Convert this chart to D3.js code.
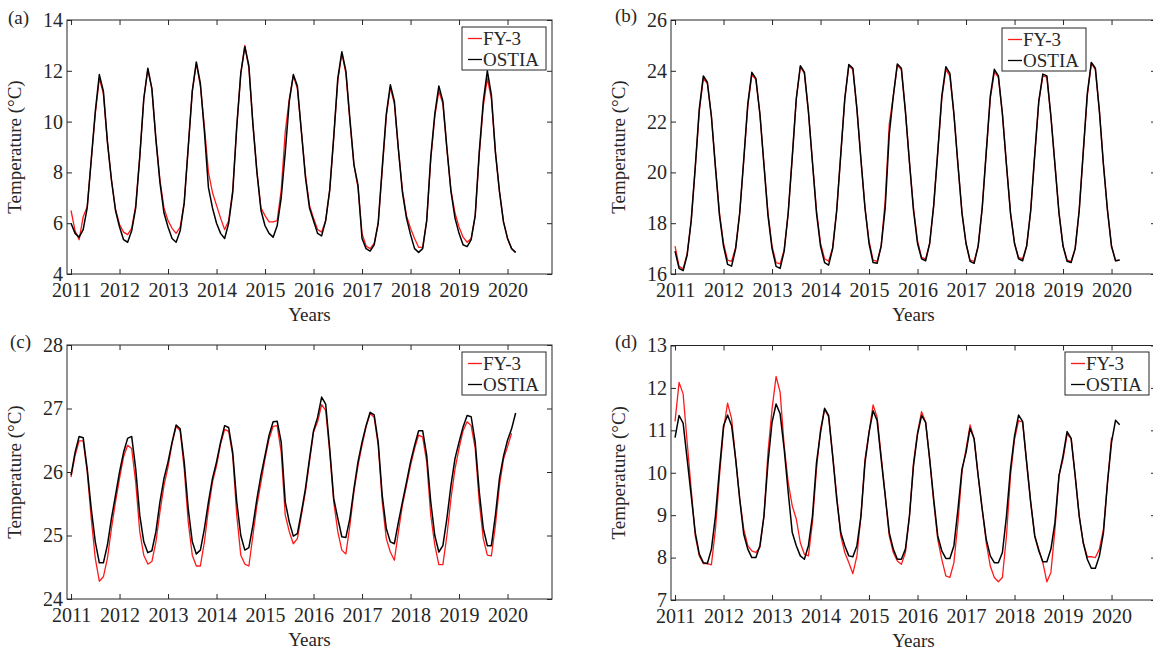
<!DOCTYPE html>
<html>
<head>
<meta charset="utf-8">
<script src="https://cdn.jsdelivr.net/npm/d3@7"></script>
<style>
  body { margin: 0; background: #fff; }
  svg text { font-family: "Liberation Serif", "Times New Roman", serif; fill: #262626; }
</style>
</head>
<body>
<svg id="chart" width="1153" height="652"></svg>
<script>
// monthly means, Jan 2011 onwards
var years = [2011, 2012, 2013, 2014, 2015, 2016, 2017, 2018, 2019, 2020];
var seriesNames = ["FY-3", "OSTIA"];

var fyA = [
  6.50, 5.70, 5.35, 6.25, 6.65, 8.50, 10.30, 11.70, 11.10, 9.20, 7.70, 6.55,
  5.95, 5.65, 5.55, 5.80, 6.70, 8.60, 10.90, 12.05, 11.30, 9.30, 7.70, 6.60,
  6.10, 5.80, 5.60, 5.85, 6.80, 9.00, 11.20, 12.30, 11.40, 9.80, 8.00, 7.20,
  6.70, 6.20, 5.75, 6.10, 7.30, 9.80, 11.90, 13.00, 12.10, 9.90, 8.00, 6.60,
  6.30, 6.05, 6.05, 6.10, 7.30, 9.60, 10.90, 11.80, 11.30, 9.60, 7.90, 6.70,
  6.20, 5.75, 5.65, 6.10, 7.30, 9.40, 11.60, 12.70, 11.90, 10.00, 8.30, 7.40,
  5.60, 5.10, 5.00, 5.20, 6.00, 8.10, 10.20, 11.35, 10.70, 8.90, 7.30, 6.30,
  5.80, 5.40, 5.05, 5.05, 6.10, 8.50, 10.20, 11.20, 10.70, 8.90, 7.30, 6.40,
  5.85, 5.45, 5.25, 5.40, 6.30, 8.70, 10.60, 11.70, 10.90, 8.80, 7.25, 6.05,
  5.40, 5.00, 4.85
];
var ostiaA = [
  6.00, 5.60, 5.45, 5.75, 6.60, 8.50, 10.40, 11.85, 11.20, 9.20, 7.70, 6.50,
  5.85, 5.35, 5.25, 5.70, 6.60, 8.60, 10.90, 12.10, 11.30, 9.30, 7.60, 6.40,
  5.85, 5.40, 5.25, 5.70, 6.80, 9.00, 11.20, 12.35, 11.50, 9.60, 7.40, 6.60,
  6.00, 5.60, 5.40, 6.00, 7.20, 9.80, 11.90, 12.95, 12.20, 9.90, 8.00, 6.50,
  5.90, 5.60, 5.45, 5.90, 7.00, 8.80, 10.80, 11.85, 11.40, 9.60, 7.80, 6.60,
  6.10, 5.60, 5.50, 6.10, 7.30, 9.40, 11.70, 12.75, 12.00, 10.10, 8.30, 7.50,
  5.40, 5.00, 4.90, 5.15, 6.00, 8.20, 10.30, 11.45, 10.80, 8.90, 7.20, 6.20,
  5.55, 5.00, 4.85, 5.00, 6.10, 8.60, 10.30, 11.40, 10.80, 8.95, 7.25, 6.20,
  5.60, 5.15, 5.08, 5.35, 6.30, 8.80, 10.80, 12.00, 11.05, 8.80, 7.25, 6.05,
  5.40, 5.00, 4.85
];

var fyB = [
  17.10, 16.30, 16.20, 16.80, 18.10, 20.20, 22.40, 23.70, 23.50, 22.20, 20.20, 18.40,
  17.20, 16.55, 16.50, 17.05, 18.40, 20.50, 22.60, 23.85, 23.65, 22.30, 20.30, 18.40,
  17.10, 16.45, 16.40, 16.95, 18.40, 20.60, 22.90, 24.15, 23.90, 22.40, 20.40, 18.50,
  17.20, 16.60, 16.50, 17.05, 18.50, 20.70, 22.90, 24.20, 24.05, 22.50, 20.50, 18.60,
  17.30, 16.55, 16.50, 17.10, 18.90, 21.90, 23.00, 24.22, 24.05, 22.40, 20.40, 18.60,
  17.30, 16.65, 16.60, 17.20, 18.70, 20.80, 22.90, 24.05, 23.80, 22.30, 20.30, 18.40,
  17.20, 16.55, 16.50, 17.10, 18.60, 20.80, 22.90, 23.95, 23.75, 22.30, 20.30, 18.40,
  17.20, 16.65, 16.60, 17.10, 18.50, 20.70, 22.80, 23.80, 23.75, 22.20, 20.30, 18.40,
  17.10, 16.55, 16.50, 17.00, 18.50, 20.80, 23.00, 24.30, 24.05, 22.40, 20.30, 18.50,
  17.10, 16.52, 16.55
];
var ostiaB = [
  16.90, 16.22, 16.13, 16.75, 18.10, 20.20, 22.50, 23.80, 23.55, 22.20, 20.20, 18.30,
  17.10, 16.38, 16.31, 17.00, 18.40, 20.50, 22.70, 23.94, 23.70, 22.30, 20.30, 18.30,
  17.00, 16.30, 16.22, 16.90, 18.40, 20.60, 22.90, 24.20, 23.95, 22.40, 20.40, 18.40,
  17.10, 16.45, 16.35, 17.00, 18.50, 20.70, 22.90, 24.25, 24.10, 22.50, 20.50, 18.60,
  17.20, 16.45, 16.42, 17.10, 18.60, 21.50, 23.00, 24.27, 24.10, 22.40, 20.40, 18.50,
  17.20, 16.60, 16.52, 17.20, 18.70, 20.80, 23.00, 24.16, 23.90, 22.30, 20.30, 18.40,
  17.20, 16.50, 16.42, 17.10, 18.60, 20.80, 23.00, 24.06, 23.80, 22.30, 20.30, 18.40,
  17.20, 16.60, 16.52, 17.10, 18.50, 20.70, 22.80, 23.87, 23.80, 22.20, 20.30, 18.40,
  17.10, 16.50, 16.45, 17.00, 18.50, 20.80, 23.10, 24.33, 24.10, 22.40, 20.30, 18.50,
  17.08, 16.52, 16.55
];

var fyC = [
  25.92, 26.26, 26.49, 26.49, 26.00, 25.27, 24.64, 24.28, 24.35, 24.64, 25.11, 25.53,
  25.90, 26.24, 26.42, 26.37, 25.84, 25.06, 24.69, 24.55, 24.59, 24.90, 25.37, 25.79,
  26.08, 26.45, 26.72, 26.65, 26.05, 25.21, 24.69, 24.52, 24.52, 24.90, 25.42, 25.84,
  26.10, 26.44, 26.67, 26.64, 26.26, 25.32, 24.69, 24.55, 24.52, 25.00, 25.48, 25.84,
  26.21, 26.52, 26.72, 26.73, 26.31, 25.32, 25.06, 24.87, 24.95, 25.32, 25.69, 26.16,
  26.63, 26.79, 27.06, 26.97, 26.31, 25.53, 25.06, 24.77, 24.71, 25.16, 25.69, 26.10,
  26.42, 26.71, 26.92, 26.86, 26.42, 25.53, 24.95, 24.74, 24.61, 25.06, 25.48, 25.79,
  26.10, 26.37, 26.58, 26.55, 26.16, 25.32, 24.85, 24.54, 24.54, 25.00, 25.58, 26.05,
  26.37, 26.65, 26.79, 26.73, 26.37, 25.53, 24.95, 24.69, 24.68, 25.16, 25.79, 26.20,
  26.40, 26.61
];
var ostiaC = [
  25.95, 26.31, 26.56, 26.54, 26.05, 25.42, 24.90, 24.57, 24.57, 24.85, 25.27, 25.63,
  26.00, 26.31, 26.53, 26.56, 26.05, 25.32, 24.90, 24.73, 24.76, 25.06, 25.53, 25.90,
  26.16, 26.47, 26.74, 26.68, 26.16, 25.42, 24.90, 24.71, 24.77, 25.11, 25.53, 25.90,
  26.16, 26.47, 26.73, 26.70, 26.31, 25.53, 25.00, 24.77, 24.81, 25.16, 25.58, 25.95,
  26.26, 26.58, 26.79, 26.80, 26.47, 25.53, 25.21, 24.99, 25.03, 25.37, 25.74, 26.21,
  26.65, 26.86, 27.18, 27.07, 26.37, 25.58, 25.27, 24.98, 24.97, 25.27, 25.74, 26.16,
  26.47, 26.73, 26.94, 26.90, 26.47, 25.63, 25.11, 24.90, 24.87, 25.21, 25.53, 25.84,
  26.16, 26.42, 26.65, 26.65, 26.26, 25.53, 25.00, 24.74, 24.84, 25.27, 25.79, 26.21,
  26.47, 26.71, 26.89, 26.87, 26.47, 25.69, 25.11, 24.84, 24.84, 25.32, 25.90, 26.25,
  26.50, 26.68, 26.93
];

var fyD = [
  11.21, 12.13, 11.86, 10.72, 9.61, 8.51, 8.04, 7.86, 7.86, 7.83, 8.67, 9.93,
  11.03, 11.64, 11.27, 10.32, 9.38, 8.67, 8.28, 8.16, 8.12, 8.24, 8.98, 10.48,
  11.50, 12.27, 11.90, 10.64, 9.77, 9.22, 8.91, 8.35, 8.08, 8.04, 8.83, 10.09,
  11.03, 11.50, 11.31, 10.40, 9.46, 8.51, 8.12, 7.88, 7.62, 8.04, 8.98, 10.32,
  10.95, 11.60, 11.31, 10.40, 9.46, 8.51, 8.12, 7.92, 7.84, 8.12, 8.98, 10.24,
  10.95, 11.44, 11.19, 10.32, 9.30, 8.43, 7.96, 7.57, 7.53, 7.88, 8.83, 10.02,
  10.56, 11.13, 10.80, 9.93, 9.14, 8.35, 7.80, 7.53, 7.43, 7.53, 8.51, 9.93,
  10.79, 11.23, 11.19, 10.24, 9.30, 8.51, 8.20, 7.88, 7.43, 7.65, 8.67, 9.93,
  10.32, 10.91, 10.81, 9.93, 8.98, 8.35, 8.02, 8.02, 8.00, 8.20, 8.67, 9.77,
  10.83
];
var ostiaD = [
  10.83, 11.35, 11.17, 10.32, 9.46, 8.59, 8.08, 7.88, 7.86, 8.20, 8.98, 10.09,
  11.11, 11.36, 11.11, 10.32, 9.38, 8.55, 8.20, 8.00, 8.00, 8.28, 8.98, 10.24,
  11.19, 11.62, 11.39, 10.56, 9.54, 8.59, 8.28, 8.04, 7.96, 8.28, 8.98, 10.24,
  10.95, 11.52, 11.35, 10.40, 9.38, 8.59, 8.28, 8.04, 8.02, 8.28, 8.98, 10.24,
  10.95, 11.46, 11.23, 10.32, 9.46, 8.59, 8.20, 7.96, 7.96, 8.20, 8.98, 10.17,
  10.91, 11.35, 11.19, 10.32, 9.38, 8.51, 8.16, 7.98, 7.98, 8.28, 9.14, 10.09,
  10.48, 11.05, 10.80, 9.93, 9.14, 8.43, 8.04, 7.88, 7.88, 8.12, 8.98, 10.09,
  10.87, 11.36, 11.21, 10.24, 9.30, 8.51, 8.16, 7.90, 7.90, 8.20, 8.83, 9.93,
  10.40, 10.97, 10.81, 9.93, 8.98, 8.35, 7.96, 7.75, 7.75, 8.04, 8.59, 9.77,
  10.72, 11.24, 11.13
];

var yTicksA = [4, 6, 8, 10, 12, 14];
var yTicksB = [16, 18, 20, 22, 24, 26];
var yTicksC = [24, 25, 26, 27, 28];
var yTicksD = [7, 8, 9, 10, 11, 12, 13];

var panels = [
  {tag: "(a)", fy: fyA, ostia: ostiaA, ticks: yTicksA, left: 67, top: 20, bottom: 274, tagX: 8, tagY: 17, legX: 462, legY: 27},
  {tag: "(b)", fy: fyB, ostia: ostiaB, ticks: yTicksB, left: 671, top: 20, bottom: 274, tagX: 615, tagY: 15, legX: 1002, legY: 28},
  {tag: "(c)", fy: fyC, ostia: ostiaC, ticks: yTicksC, left: 67, top: 345, bottom: 599, tagX: 10, tagY: 341, legX: 462, legY: 352},
  {tag: "(d)", fy: fyD, ostia: ostiaD, ticks: yTicksD, left: 671, top: 345.5, bottom: 600, tagX: 615, tagY: 341, legX: 1065, legY: 352}
];

var svg = d3.select("#chart");
var axisColor = "#262626";
var plotW = 485;

panels.forEach(function(p) {
  var g = svg.append("g");
  var x = d3.scaleLinear().domain([0, 120]).range([p.left, p.left + plotW]);
  var y = d3.scaleLinear().domain(d3.extent(p.ticks)).range([p.bottom, p.top]);
  var yearTicks = years.map(function(d, k) { return 1 + 12 * k; });

  // data lines, OSTIA on top
  var line = d3.line()
    .x(function(d, i) { return x(i + 1); })
    .y(function(d) { return y(d); });

  g.append("path").datum(p.fy)
    .attr("fill", "none").attr("stroke", "#ff1a1a").attr("stroke-width", 1.3)
    .attr("stroke-linejoin", "round").attr("d", line);
  g.append("path").datum(p.ostia)
    .attr("fill", "none").attr("stroke", "#000").attr("stroke-width", 1.5)
    .attr("stroke-linejoin", "round").attr("d", line);

  // axes with inward ticks on all four sides
  var xb = g.append("g").attr("transform", "translate(0," + p.bottom + ")")
    .call(d3.axisBottom(x).tickValues(yearTicks)
      .tickFormat(function(d, k) { return years[k]; })
      .tickSizeInner(-5).tickSizeOuter(0).tickPadding(9));
  var xt = g.append("g").attr("transform", "translate(0," + p.top + ")")
    .call(d3.axisTop(x).tickValues(yearTicks).tickFormat("")
      .tickSizeInner(-5).tickSizeOuter(0));
  var yl = g.append("g").attr("transform", "translate(" + p.left + ",0)")
    .call(d3.axisLeft(y).tickValues(p.ticks).tickFormat(d3.format("d"))
      .tickSizeInner(-5).tickSizeOuter(0).tickPadding(4));
  var yr = g.append("g").attr("transform", "translate(" + (p.left + plotW) + ",0)")
    .call(d3.axisRight(y).tickValues(p.ticks).tickFormat("")
      .tickSizeInner(-5).tickSizeOuter(0));

  [xb, xt, yl, yr].forEach(function(a) {
    a.select(".domain").remove();
    a.selectAll(".tick line").attr("stroke", axisColor);
    a.selectAll(".tick text").attr("fill", axisColor)
      .style("font-size", "20px").style("font-family", "Liberation Serif");
  });

  g.append("rect")
    .attr("x", p.left).attr("y", p.top)
    .attr("width", plotW).attr("height", p.bottom - p.top)
    .attr("fill", "none").attr("stroke", axisColor).attr("stroke-width", 1);

  // titles
  g.append("text")
    .attr("x", p.left + plotW / 2).attr("y", p.bottom + 47)
    .attr("text-anchor", "middle").style("font-size", "19px")
    .text("Years");
  g.append("text")
    .attr("transform", "translate(" + (p.left - 46) + "," + ((p.top + p.bottom) / 2) + ") rotate(-90)")
    .attr("text-anchor", "middle").style("font-size", "19px")
    .text("Temperature (°C)");
  g.append("text")
    .attr("x", p.tagX).attr("y", p.tagY).attr("dy", "0.35em")
    .style("font-size", "19px").text(p.tag);

  // legend
  var leg = g.append("g").attr("transform", "translate(" + p.legX + "," + p.legY + ")");
  leg.append("rect").attr("width", 84).attr("height", 43)
    .attr("fill", "#fff").attr("stroke", axisColor).attr("stroke-width", 1);
  var legColors = ["#ff1a1a", "#000"];
  seriesNames.forEach(function(name, k) {
    var cy = 11.5 + k * 21;
    leg.append("line").attr("x1", 6).attr("x2", 20).attr("y1", cy).attr("y2", cy)
      .attr("stroke", legColors[k]).attr("stroke-width", 1.3);
    leg.append("text").attr("x", 21).attr("y", cy).attr("dy", "0.35em")
      .style("font-size", "19px").text(name);
  });
});
</script>
</body>
</html>
